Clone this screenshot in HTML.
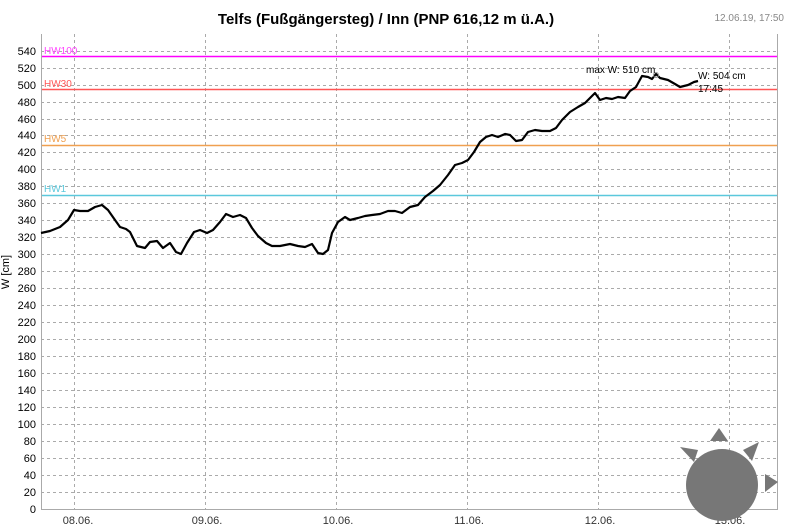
<!DOCTYPE html>
<html><head><meta charset="utf-8"><style>
body{margin:0;background:#fff;}
svg{display:block;font-family:"Liberation Sans","DejaVu Sans",sans-serif;}
</style></head><body>
<svg width="789" height="531" viewBox="0 0 789 531">
<text x="386" y="24" font-size="15" font-weight="bold" text-anchor="middle" fill="#000">Telfs (Fußgängersteg) / Inn (PNP 616,12 m ü.A.)</text>
<text x="784" y="21" font-size="10" text-anchor="end" fill="#888">12.06.19, 17:50</text>
<g stroke="#aaa" stroke-width="1" stroke-dasharray="3,3">
<line x1="41" x2="777" y1="492.5" y2="492.5"/><line x1="41" x2="777" y1="475.5" y2="475.5"/><line x1="41" x2="777" y1="458.5" y2="458.5"/><line x1="41" x2="777" y1="441.5" y2="441.5"/><line x1="41" x2="777" y1="424.5" y2="424.5"/><line x1="41" x2="777" y1="407.5" y2="407.5"/><line x1="41" x2="777" y1="390.5" y2="390.5"/><line x1="41" x2="777" y1="373.5" y2="373.5"/><line x1="41" x2="777" y1="356.5" y2="356.5"/><line x1="41" x2="777" y1="339.5" y2="339.5"/><line x1="41" x2="777" y1="322.5" y2="322.5"/><line x1="41" x2="777" y1="305.5" y2="305.5"/><line x1="41" x2="777" y1="288.5" y2="288.5"/><line x1="41" x2="777" y1="271.5" y2="271.5"/><line x1="41" x2="777" y1="254.5" y2="254.5"/><line x1="41" x2="777" y1="237.5" y2="237.5"/><line x1="41" x2="777" y1="220.5" y2="220.5"/><line x1="41" x2="777" y1="203.5" y2="203.5"/><line x1="41" x2="777" y1="186.5" y2="186.5"/><line x1="41" x2="777" y1="169.5" y2="169.5"/><line x1="41" x2="777" y1="152.5" y2="152.5"/><line x1="41" x2="777" y1="135.5" y2="135.5"/><line x1="41" x2="777" y1="119.5" y2="119.5"/><line x1="41" x2="777" y1="102.5" y2="102.5"/><line x1="41" x2="777" y1="85.5" y2="85.5"/><line x1="41" x2="777" y1="68.5" y2="68.5"/><line x1="41" x2="777" y1="51.5" y2="51.5"/>
<line x1="74.5" x2="74.5" y1="34" y2="509"/><line x1="205.5" x2="205.5" y1="34" y2="509"/><line x1="336.5" x2="336.5" y1="34" y2="509"/><line x1="467.5" x2="467.5" y1="34" y2="509"/><line x1="598.5" x2="598.5" y1="34" y2="509"/><line x1="729.5" x2="729.5" y1="34" y2="509"/>
</g>
<g font-size="11" fill="#000" text-anchor="end">
<text x="36" y="513">0</text><text x="36" y="496">20</text><text x="36" y="479">40</text><text x="36" y="462">60</text><text x="36" y="445">80</text><text x="36" y="428">100</text><text x="36" y="411">120</text><text x="36" y="394">140</text><text x="36" y="377">160</text><text x="36" y="360">180</text><text x="36" y="343">200</text><text x="36" y="326">220</text><text x="36" y="309">240</text><text x="36" y="292">260</text><text x="36" y="275">280</text><text x="36" y="258">300</text><text x="36" y="241">320</text><text x="36" y="224">340</text><text x="36" y="207">360</text><text x="36" y="190">380</text><text x="36" y="173">400</text><text x="36" y="156">420</text><text x="36" y="139">440</text><text x="36" y="123">460</text><text x="36" y="106">480</text><text x="36" y="89">500</text><text x="36" y="72">520</text><text x="36" y="55">540</text>
</g>
<text x="9" y="272" font-size="11" text-anchor="middle" transform="rotate(-90 9 272)">W [cm]</text>
<g font-size="11" fill="#333" text-anchor="middle">
<text x="78" y="524">08.06.</text><text x="207" y="524">09.06.</text><text x="338" y="524">10.06.</text><text x="469" y="524">11.06.</text><text x="600" y="524">12.06.</text><text x="730" y="524">13.06.</text>
</g>
<line x1="41" x2="777" y1="56.5" y2="56.5" stroke="#f0f" stroke-width="1.5"/>
<line x1="41" x2="777" y1="89.5" y2="89.5" stroke="#f55" stroke-width="1.5"/>
<line x1="41" x2="777" y1="145.5" y2="145.5" stroke="#f0a050" stroke-width="1.5"/>
<line x1="41" x2="777" y1="195.5" y2="195.5" stroke="#5bc8dc" stroke-width="1.5"/>
<g font-size="10">
<text x="44" y="54" fill="#f4f">HW100</text><text x="44" y="87" fill="#f55">HW30</text><text x="44" y="142" fill="#f0a050">HW5</text><text x="44" y="192" fill="#5bc8dc">HW1</text>
</g>
<path d="M41.5 34 V509.5 H777.5 V34" fill="none" stroke="#aaa" stroke-width="1"/>
<polyline fill="none" stroke="#000" stroke-width="2.2" stroke-linejoin="round" points="41,233 50,231 60,227 68,220 74,210 80,211 88,211 95,207 102,205 108,210 115,220 120,227 126,229 130,232 137,246 145,248 150,242 157,241 163,248 170,243 176,252 181,254 187,243 194,232 200,230 207,233 213,230 220,222 226,214 233,217 240,215 246,218 252,228 258,236 266,243 272,246 280,246 290,244 298,246 305,247 312,244 318,253 323,254 328,250 332,233 338,222 345,217 350,220 358,218 365,216 372,215 380,214 388,211 395,211 402,213 410,207 418,205 425,197 433,191 440,185 448,175 455,165 462,163 468,160 474,152 480,142 486,137 492,135 498,137 505,134 510,135 516,141 522,140 528,132 535,130 542,131 550,131 556,128 562,120 570,112 578,107 585,103 590,98 595,93 600,100 606,98 612,99 618,97 625,98 630,91 636,87 642,76 648,77 652,79 656,74 660,78 668,80 675,84 680,87 688,85 694,82 698,81"/>
<circle cx="656" cy="75" r="2.5" fill="none" stroke="#999"/>
<g font-size="10" fill="#000">
<text x="586" y="73">max W: 510 cm</text>
<text x="698" y="79">W: 504 cm</text><text x="698" y="92">17:45</text>
</g>
<g fill="#777">
<circle cx="722" cy="485" r="36"/>
<polygon points="719,428 710,441 728,441"/>
<polygon points="680,447 694,462 698,450"/>
<polygon points="759,442 743,450 752,461"/>
<polygon points="778,482 765,474 765,492"/>
</g>
</svg>
</body></html>
